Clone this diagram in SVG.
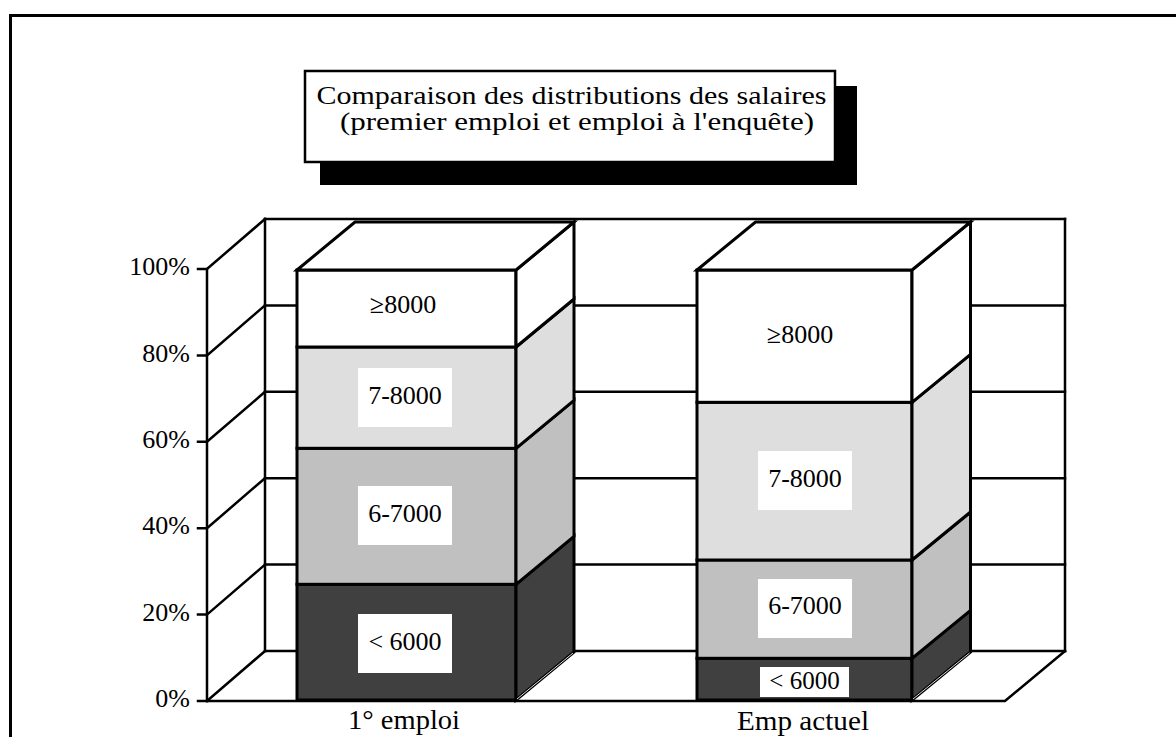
<svg xmlns="http://www.w3.org/2000/svg" width="1176" height="737" viewBox="0 0 1176 737">
<style>
.grid{stroke:#000;stroke-width:2.5;fill:none;stroke-linecap:square}
.bar{stroke:#000;stroke-width:3;stroke-linejoin:miter}
.c1{fill:#404040}.c2{fill:#c0c0c0}.c3{fill:#dedede}.c4{fill:#fff}
.lbl{font-family:"Liberation Serif","Times New Roman",serif;font-size:26px;fill:#000;text-anchor:middle}
.ax{font-family:"Liberation Serif","Times New Roman",serif;font-size:26px;fill:#000;text-anchor:end}
.ttl{font-family:"Liberation Serif","Times New Roman",serif;font-size:25px;fill:#000;text-anchor:middle}
.box{fill:#fff}
</style>
<rect width="1176" height="737" fill="#fff"/>
<g id="frame">
<path d="M10.5,737 V15.5 H1176" fill="none" stroke="#000" stroke-width="3"/>
</g>
<g id="title">
<rect x="320" y="86" width="537" height="99" fill="#000"/>
<rect x="305" y="71" width="530" height="91" fill="#fff" stroke="#000" stroke-width="2.5"/>
<text class="ttl" x="571.5" y="104" textLength="510" lengthAdjust="spacingAndGlyphs">Comparaison des distributions des salaires</text>
<text class="ttl" x="577" y="129.5" textLength="474" lengthAdjust="spacingAndGlyphs">(premier emploi et emploi à l'enquête)</text>
</g>
<g id="grid">
<path class="grid" d="M265,219 H1065 M265,305.4 H1065 M265,391.8 H1065 M265,478.2 H1065 M265,564.6 H1065 M265,651 H1065"/>
<path class="grid" d="M265,219 V651 M1065,219 V651"/>
<path class="grid" d="M207,269 L265,219 M207,355.4 L265,305.4 M207,441.8 L265,391.8 M207,528.2 L265,478.2 M207,614.6 L265,564.6 M207,701 L265,651"/>
<path class="grid" d="M207,269 V701 M198,269 H207 M198,355.4 H207 M198,441.8 H207 M198,528.2 H207 M198,614.6 H207 M198,701 H207"/>
<path class="grid" d="M207,701 H1005 L1065,651" stroke-width="3"/>
</g>
<g id="axis-labels">
<text class="ax" x="190" y="275">100%</text>
<text class="ax" x="190" y="361.5">80%</text>
<text class="ax" x="190" y="447.5">60%</text>
<text class="ax" x="190" y="534">40%</text>
<text class="ax" x="190" y="620.5">20%</text>
<text class="ax" x="190" y="706.5">0%</text>
</g>
<g id="bar-1">
<rect class="bar c1" x="297" y="584.3" width="219" height="115.7"/>
<polygon class="bar c1" points="516,700 574,652 574,536.3 516,584.3"/>
<rect class="bar c2" x="297" y="448.3" width="219" height="136"/>
<polygon class="bar c2" points="516,584.3 574,536.3 574,400.3 516,448.3"/>
<rect class="bar c3" x="297" y="347" width="219" height="101.3"/>
<polygon class="bar c3" points="516,448.3 574,400.3 574,299 516,347"/>
<rect class="bar c4" x="297" y="270" width="219" height="77"/>
<polygon class="bar c4" points="516,347 574,299 574,222 516,270"/>
<polygon class="bar c4" points="297,270 355,222 574,222 516,270"/>
<line x1="517" y1="699" x2="573" y2="653" stroke="#ddd" stroke-width="1"/>
<text class="lbl" x="403" y="313">≥8000</text>
<rect class="box" x="358" y="368" width="94" height="59"/>
<text class="lbl" x="405" y="403.5">7-8000</text>
<rect class="box" x="358" y="486" width="94" height="59"/>
<text class="lbl" x="405" y="521.5">6-7000</text>
<rect class="box" x="358" y="614" width="94" height="59"/>
<text class="lbl" x="405" y="650">&lt; 6000</text>
</g>
<g id="bar-2">
<rect class="bar c1" x="697" y="658.3" width="215" height="41.7"/>
<polygon class="bar c1" points="912,700 970.5,652 970.5,610.3 912,658.3"/>
<rect class="bar c2" x="697" y="560" width="215" height="98.3"/>
<polygon class="bar c2" points="912,658.3 970.5,610.3 970.5,512 912,560"/>
<rect class="bar c3" x="697" y="402.3" width="215" height="157.7"/>
<polygon class="bar c3" points="912,560 970.5,512 970.5,354.3 912,402.3"/>
<rect class="bar c4" x="697" y="270" width="215" height="132.3"/>
<polygon class="bar c4" points="912,402.3 970.5,354.3 970.5,222 912,270"/>
<polygon class="bar c4" points="697,270 755.5,222 970.5,222 912,270"/>
<line x1="913" y1="699" x2="969.5" y2="653" stroke="#ddd" stroke-width="1"/>
<text class="lbl" x="800" y="342.5">≥8000</text>
<rect class="box" x="758" y="451" width="94" height="59"/>
<text class="lbl" x="805" y="486.5">7-8000</text>
<rect class="box" x="758" y="579" width="94" height="59"/>
<text class="lbl" x="805" y="614">6-7000</text>
<rect class="box" x="760" y="667" width="89" height="30"/>
<text class="lbl" x="804.5" y="689" style="font-size:25px">&lt; 6000</text>
</g>
<g id="category-labels">
<text class="lbl" x="404" y="729" style="font-size:27px" textLength="112" lengthAdjust="spacingAndGlyphs">1° emploi</text>
<text class="lbl" x="803" y="730" style="font-size:27px" textLength="132" lengthAdjust="spacingAndGlyphs">Emp actuel</text>
</g>
</svg>
